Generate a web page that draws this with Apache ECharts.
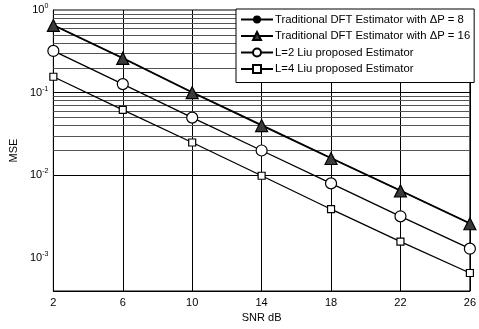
<!DOCTYPE html>
<html>
<head>
<meta charset="utf-8">
<script src="https://cdn.jsdelivr.net/npm/echarts@6/dist/echarts.min.js"></script>
<style>
  html, body { margin: 0; padding: 0; background: #fff; }
  #chart { width: 479px; height: 329px; }
</style>
</head>
<body>
<div id="chart"></div>
<script>
// SNR values (dB)
const snr = [2, 6, 10, 14, 18, 22, 26];

// MSE curves
const dftDp8  = [0.66, 0.264, 0.102, 0.0408, 0.0163, 0.0066, 0.00265];
const dftDp16 = [0.65, 0.26, 0.100, 0.040, 0.0160, 0.0065, 0.0026];
const liuL2   = [0.32, 0.127, 0.050, 0.020, 0.0080, 0.0032, 0.0013];
const liuL4   = [0.156, 0.062, 0.025, 0.0099, 0.0039, 0.00158, 0.00066];

const seriesNames = [
  'Traditional DFT Estimator with \u0394P = 8',
  'Traditional DFT Estimator with \u0394P = 16',
  'L=2 Liu proposed Estimator',
  'L=4 Liu proposed Estimator'
];

// y-axis range and decade grid
const yMin = 4e-4, yMax = 1;
const decades = [1e-3, 1e-2, 1e-1, 1];
const minorMult = [2, 3, 4, 5, 6, 7, 8, 9];

const minorLines = [];
[1e-4, 1e-3, 1e-2, 1e-1].forEach(d => {
  minorMult.forEach(m => {
    const v = d * m;
    if (v > yMin && v < yMax) minorLines.push({ yAxis: v });
  });
});
const majorLines = decades.filter(v => v > yMin && v < yMax).map(v => ({ yAxis: v }));

const FONT = 'Liberation Sans';

function pairs(ys) { return snr.map((x, i) => [x, ys[i]]); }

const lineStyle = { color: '#000', width: 1.3 };

const chart = echarts.init(document.getElementById('chart'), null, { renderer: 'canvas' });

chart.setOption({
  animation: false,
  backgroundColor: '#fff',
  textStyle: { fontFamily: FONT },
  grid: { left: 47, right: 6, top: 10, bottom: 38, show: true, borderColor: '#000', borderWidth: 1 },
  xAxis: {
    type: 'value', min: 2, max: 26, interval: 4,
    name: 'SNR dB', nameLocation: 'middle', nameGap: 20,
    nameTextStyle: { fontFamily: FONT, fontSize: 11, color: '#000' },
    axisLine: { show: true, lineStyle: { color: '#000' } },
    axisTick: { show: false },
    axisLabel: { fontFamily: FONT, fontSize: 11, color: '#000', margin: 6 },
    splitLine: { show: true, lineStyle: { color: '#000', width: 1 } }
  },
  yAxis: {
    type: 'log', logBase: 10, min: yMin, max: yMax,
    name: 'MSE', nameLocation: 'middle', nameGap: 30,
    nameTextStyle: { fontFamily: FONT, fontSize: 11, color: '#000' },
    axisLine: { show: true, lineStyle: { color: '#000' } },
    axisTick: { show: false },
    splitLine: { show: false },
    axisLabel: {
      margin: 5,
      formatter: function (v) {
        const e = Math.round(Math.log10(v));
        if (Math.abs(Math.log10(v) - e) > 1e-6) return '';
        return '{b|10}{s|' + e + '}';
      },
      rich: {
        b: { fontFamily: FONT, fontSize: 11, color: '#000' },
        s: { fontFamily: FONT, fontSize: 7, color: '#000', padding: [0, 0, 8, 0] }
      }
    }
  },
  legend: {
    orient: 'vertical',
    z: 20,
    left: 236, top: 9,
    width: 238,
    padding: [5, 4, 8, 4],
    itemGap: 5.5,
    itemWidth: 32, itemHeight: 10,
    backgroundColor: '#fff',
    borderColor: '#000', borderWidth: 1, borderRadius: 0,
    textStyle: { fontFamily: FONT, fontSize: 11.3, color: '#000', padding: [0, 0, 0, -3] },
    data: seriesNames
  },
  series: [
    {
      name: seriesNames[0], type: 'line', data: pairs(dftDp8),
      symbol: 'circle', symbolSize: 4,
      itemStyle: { color: '#000', borderColor: '#000' },
      lineStyle: lineStyle, z: 3
    },
    {
      name: seriesNames[1], type: 'line', data: pairs(dftDp16),
      symbol: 'triangle', symbolSize: 12,
      itemStyle: { color: '#3a3a3a', borderColor: '#000', borderWidth: 1.2 },
      lineStyle: lineStyle, z: 4
    },
    {
      name: seriesNames[2], type: 'line', data: pairs(liuL2),
      symbol: 'circle', symbolSize: 11,
      itemStyle: { color: '#fff', borderColor: '#000', borderWidth: 1.2 },
      lineStyle: lineStyle, z: 4
    },
    {
      name: seriesNames[3], type: 'line', data: pairs(liuL4),
      symbol: 'rect', symbolSize: 7,
      itemStyle: { color: '#fff', borderColor: '#000', borderWidth: 1.2 },
      lineStyle: lineStyle, z: 4
    },
    {
      // horizontal grid: minor (gray) and decade (black) lines
      name: 'grid', type: 'line', data: [], z: 1, silent: true,
      markLine: {
        z: 1,
        silent: true, symbol: 'none', animation: false,
        label: { show: false },
        data: minorLines.map(d => Object.assign({ lineStyle: { color: '#555', width: 1, type: 'solid' } }, d))
          .concat(majorLines.map(d => Object.assign({ lineStyle: { color: '#000', width: 1, type: 'solid' } }, d)))
      }
    }
  ]
});
</script>
</body>
</html>
